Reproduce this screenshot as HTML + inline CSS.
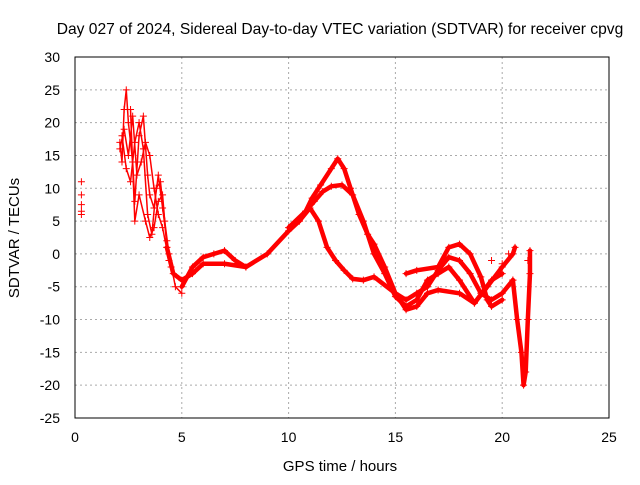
<!DOCTYPE html>
<html><head><meta charset="utf-8"><style>
body{margin:0;background:#fff;}
svg text{font-family:"Liberation Sans",sans-serif;font-size:14px;fill:#000;}
</style></head><body>
<svg id="chart" width="640" height="480">
<rect width="640" height="480" fill="#fff"/>
<text x="340" y="34" text-anchor="middle" style="font-size:15.6px">Day 027 of 2024, Sidereal Day-to-day VTEC variation (SDTVAR) for receiver cpvg</text>
<text x="340" y="471" text-anchor="middle" style="font-size:15px">GPS time / hours</text>
<text transform="translate(19,238) rotate(-90)" text-anchor="middle" style="font-size:15px">SDTVAR / TECUs</text>
<g id="grid"></g><g id="ticks"></g><g id="series"></g>
<rect x="75" y="57" width="534" height="361" fill="none" stroke="#000" stroke-width="1"/>
</svg>
<script>
const xTicks=[0,5,10,15,20,25];
const yTicks=[30,25,20,15,10,5,0,-5,-10,-15,-20,-25];
const traceEarly0=[[0.3,11],[0.3,9],[0.3,7.5],[0.3,6.5],[0.3,6]];
const traceEarly1=[[2.1,17],[2.2,14],[2.3,22],[2.4,25],[2.5,20],[2.7,14],[2.8,8],[3,18],[3.2,21],[3.4,12],[3.5,9],[3.7,7],[3.9,12],[4.1,7],[4.3,2],[4.5,-2]];
const traceEarly2=[[2.2,18],[2.4,13],[2.6,11],[2.8,17],[3,20],[3.2,16],[3.4,6],[3.6,3],[3.8,10],[4,11],[4.2,5],[4.4,0],[4.7,-5],[5,-6]];
const traceEarly3=[[2.6,22],[2.8,5],[3,9],[3.3,5],[3.5,2.5],[3.7,4],[3.9,8],[4.1,9],[4.3,1]];
const traceEarly4=[[2.1,16],[2.3,19],[2.5,15],[2.7,21],[2.9,12],[3.1,14],[3.3,17],[3.5,15],[3.7,10],[3.9,6],[4.1,4],[4.4,-1]];
const curve1=[[4.3,1],[4.6,-3],[5,-4],[5.5,-3],[6,-1.5],[7,-1.5],[8,-2],[9,0],[10,3.5],[10.5,5],[10.8,6.5],[11.1,8.5],[11.5,10.5],[12,13],[12.3,14.5],[12.6,13],[12.9,10],[13.3,6],[13.7,3],[14,1.5],[14.5,-2],[15,-6],[15.5,-8.5],[16,-8],[16.5,-6],[17,-5.5],[18,-6],[18.7,-7.5],[19.3,-5],[20,-2],[20.5,0],[20.6,1]];
const curve2=[[10,4],[10.8,6.5],[11.2,8],[11.6,9.5],[12,10.3],[12.5,10.5],[13,9],[13.5,5],[14,0],[14.5,-3],[15,-6.5],[15.5,-8],[16,-7],[16.5,-4],[17,-3],[17.5,-2],[18,-4],[18.7,-7.5],[19.5,-4],[20,-3]];
const curve3=[[10.5,5],[11,7],[11.4,5],[11.8,1],[12.2,-1],[12.6,-2.5],[13,-3.8],[13.5,-4],[14,-3.5],[15,-6],[15.5,-7],[16,-6],[16.5,-5],[17,-2.5],[17.5,-0.5],[18,-1],[18.5,-3],[19,-6],[19.5,-7],[20,-6],[20.5,-4]];
const curve4=[[15.5,-3],[16,-2.5],[17,-2],[17.5,1],[18,1.5],[18.5,0],[19,-3.5],[19.3,-7],[19.5,-8],[20,-7]];
const curve5=[[5,-5],[5.5,-2],[6,-0.5],[6.5,0],[7,0.5],[7.5,-1],[8,-2]];
const curveEnd=[[20.5,-4],[20.7,-10],[20.9,-15],[21,-20],[21.1,-18],[21.2,-10],[21.3,-3],[21.3,0.5]];
const isolated=[[19.5,-1],[20,-1.5],[21.2,-1],[20.3,0]];
const scatterSeries=[traceEarly1,traceEarly2,traceEarly3,traceEarly4];
const curveSeries=[curve1,curve2,curve3,curve4,curve5,curveEnd];
const pointSeries=[traceEarly0,isolated];
const X=v=>75+v*534/25, Y=v=>57+(30-v)*361/55;
const NS="http://www.w3.org/2000/svg";
const grid=document.getElementById('grid'),ticks=document.getElementById('ticks'),ser=document.getElementById('series');
function mk(t,a,p){const e=document.createElementNS(NS,t);for(const k in a)e.setAttribute(k,a[k]);p.appendChild(e);return e;}
xTicks.forEach(t=>{
 const g=mk('line',{x1:X(t),x2:X(t),y1:57,y2:418,stroke:'#aaa','stroke-dasharray':'2,3'},grid);
 
 
 const l=mk('text',{x:X(t),y:442,'text-anchor':'middle'},ticks);l.textContent=t;
 
 
});
yTicks.forEach(t=>{
 const g=mk('line',{x1:75,x2:609,y1:Y(t),y2:Y(t),stroke:'#aaa','stroke-dasharray':'2,3'},grid);
 
 
 const l=mk('text',{x:60,y:Y(t)+5,'text-anchor':'end'},ticks);l.textContent=t;
 
 
});
function line(s,w){
 const pl=mk('polyline',{points:s.map(p=>X(p[0])+','+Y(p[1])).join(' '),fill:'none',stroke:'#f00','stroke-width':w,'stroke-linejoin':'round','stroke-linecap':'round'},ser);
 
 
}
function marks(s){
 s.forEach(p=>{
  const x=X(p[0]),y=Y(p[1]);
  const m=mk('path',{d:`M${x-3.5},${y}H${x+3.5}M${x},${y-3.5}V${y+3.5}`,stroke:'#f00','stroke-width':1},ser);
  
  
 });
}
scatterSeries.forEach(s=>{line(s,1.5);marks(s);});
curveSeries.forEach(s=>{line(s,4.5);marks(s);});
pointSeries.forEach(s=>marks(s));
</script>
</body></html>
